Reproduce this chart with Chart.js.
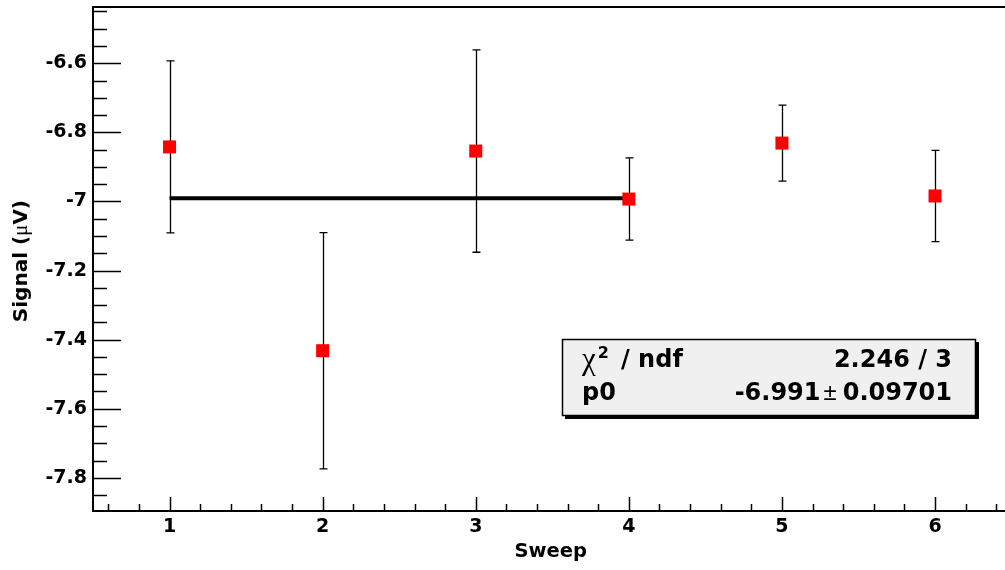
<!DOCTYPE html>
<html>
<head>
<meta charset="utf-8">
<script src="https://cdn.jsdelivr.net/npm/chart.js@4.4.0/dist/chart.umd.min.js"></script>
<style>
  html, body { margin: 0; padding: 0; background: #fff; overflow: hidden; }
  #wrap { width: 1005px; height: 570px; position: relative; }
</style>
</head>
<body>
<div id="wrap"><canvas id="grafico"></canvas></div>
<script>
// data
const sweeps = [1, 2, 3, 4, 5, 6];
const signal = [-6.842, -7.432, -6.854, -6.993, -6.831, -6.984];
const signalErr = [0.249, 0.342, 0.293, 0.119, 0.110, 0.132];

const xTickValues = [1, 2, 3, 4, 5, 6];
const xTickLabels = ["1", "2", "3", "4", "5", "6"];
const yTickValues = [-6.6, -6.8, -7.0, -7.2, -7.4, -7.6, -7.8];
const yTickLabels = ["-6.6", "-6.8", "-7", "-7.2", "-7.4", "-7.6", "-7.8"];

// fit result (pol0)
const fitRange = [1, 4];
const fitP0 = -6.991;
const fitP0Err = 0.09701;
const chi2 = 2.246;
const ndf = 3;

const FONT = '"DejaVu Sans"';

function labelFor(values, labels, v) {
  for (let i = 0; i < values.length; i++) {
    if (Math.abs(values[i] - v) < 1e-6) return labels[i];
  }
  return "";
}

// error bars, under the markers
const errorBars = {
  id: "errorBars",
  beforeDatasetsDraw(chart) {
    const ctx = chart.ctx;
    const xs = chart.scales.x;
    const ys = chart.scales.y;
    ctx.save();
    ctx.strokeStyle = "#000";
    ctx.lineWidth = 1.3;
    for (let i = 0; i < sweeps.length; i++) {
      let px = Math.round(xs.getPixelForValue(sweeps[i])) + 0.5;
      let top = ys.getPixelForValue(signal[i] + signalErr[i]);
      let bot = ys.getPixelForValue(signal[i] - signalErr[i]);
      ctx.beginPath();
      ctx.moveTo(px, top);
      ctx.lineTo(px, bot);
      ctx.moveTo(px - 4, top);
      ctx.lineTo(px + 4, top);
      ctx.moveTo(px - 4, bot);
      ctx.lineTo(px + 4, bot);
      ctx.stroke();
    }
    ctx.restore();
  },
};

// ROOT style frame with ticks inside
const frame = {
  id: "frame",
  afterDatasetsDraw(chart) {
    const ctx = chart.ctx;
    const a = chart.chartArea;
    const xs = chart.scales.x;
    const ys = chart.scales.y;
    ctx.save();
    ctx.strokeStyle = "#000";

    ctx.lineWidth = 1.5;
    ctx.beginPath();
    // y ticks: major every 0.2, minor every 0.05
    for (let k = Math.ceil(ys.min / 0.05); k <= Math.floor(ys.max / 0.05); k++) {
      let v = k * 0.05;
      let py = Math.round(ys.getPixelForValue(v)) + 0.5;
      let major = labelFor(yTickValues, yTickLabels, v) !== "";
      ctx.moveTo(a.left, py);
      ctx.lineTo(a.left + (major ? 28 : 14), py);
    }
    // x ticks: major every 1, minor every 0.2
    for (let k = Math.ceil(xs.min / 0.2); k <= Math.floor(xs.max / 0.2); k++) {
      let v = k * 0.2;
      let px = Math.round(xs.getPixelForValue(v)) + 0.5;
      let major = labelFor(xTickValues, xTickLabels, v) !== "";
      ctx.moveTo(px, a.bottom);
      ctx.lineTo(px, a.bottom - (major ? 14 : 7));
    }
    ctx.stroke();

    ctx.lineWidth = 2;
    ctx.beginPath();
    ctx.moveTo(a.right, a.top);
    ctx.lineTo(a.left, a.top);
    ctx.lineTo(a.left, a.bottom);
    ctx.lineTo(a.right, a.bottom);
    ctx.stroke();
    ctx.restore();
  },
  afterDraw(chart) {
    const ctx = chart.ctx;
    ctx.save();
    ctx.fillStyle = "#000";

    // x title
    ctx.font = "bold 19.5px " + FONT;
    ctx.textAlign = "right";
    ctx.textBaseline = "alphabetic";
    ctx.fillText("Sweep", 587, 557);

    // y title, rotated, ending at y=200
    ctx.save();
    ctx.translate(27, 200);
    ctx.rotate(-Math.PI / 2);
    ctx.textAlign = "left";
    let parts = [
      ["Signal (", "bold 20px " + FONT],
      ["\u03bc", '21px "Liberation Serif"'],
      ["V)", "bold 20px " + FONT],
    ];
    let total = 0;
    for (let p of parts) {
      ctx.font = p[1];
      total += ctx.measureText(p[0]).width;
    }
    let tx = -total;
    for (let p of parts) {
      ctx.font = p[1];
      ctx.fillText(p[0], tx, 0);
      tx += ctx.measureText(p[0]).width;
    }
    ctx.restore();

    // stat box
    ctx.fillStyle = "#000";
    ctx.fillRect(565, 342, 414, 77);
    ctx.fillStyle = "#f0f0f0";
    ctx.fillRect(562, 339, 414, 77);
    ctx.strokeStyle = "#000";
    ctx.lineWidth = 1.5;
    ctx.strokeRect(562.5, 339.5, 413, 76);

    ctx.fillStyle = "#000";
    ctx.textAlign = "left";
    ctx.font = '31px "Liberation Serif"';
    ctx.fillText("\u03c7", 582, 369);
    let chiW = ctx.measureText("\u03c7").width;
    ctx.font = "bold 16px " + FONT;
    ctx.fillText("2", 582 + chiW + 2, 358);
    ctx.font = "bold 24px " + FONT;
    ctx.fillText("/ ndf", 621, 367);
    ctx.fillText("p0", 582, 400);

    ctx.textAlign = "right";
    ctx.fillText(chi2.toFixed(3) + " / " + ndf, 952, 367);
    let errText = fitP0Err.toString();
    ctx.fillText(errText, 952, 400);
    let errW = ctx.measureText(errText).width;
    ctx.font = '24px "Liberation Sans"';
    ctx.fillText("\u00b1", 952 - errW - 6, 400);
    let pmW = ctx.measureText("\u00b1").width;
    ctx.font = "bold 24px " + FONT;
    ctx.fillText(fitP0.toFixed(3), 952 - errW - 6 - pmW - 3, 400);

    ctx.restore();
  },
};

new Chart(document.getElementById("grafico"), {
  type: "scatter",

  data: {
    datasets: [
      {
        label: "Signal",
        data: sweeps.map((x, i) => ({ x: x, y: signal[i] })),
        pointStyle: "rect",
        pointRadius: 9.2,
        pointHoverRadius: 9.2,
        backgroundColor: "#ff0000",
        borderWidth: 0,
        order: 0,
      },
      {
        type: "line",
        label: "fit",
        data: fitRange.map((x) => ({ x: x, y: fitP0 })),
        borderColor: "#000",
        borderWidth: 4,
        pointRadius: 0,
        fill: false,
        order: 1,
      },
    ],
  },

  plugins: [errorBars, frame],

  options: {
    responsive: true,
    maintainAspectRatio: false,
    animation: false,
    layout: {
      autoPadding: false,
      padding: { top: 7, left: 0, right: 0, bottom: 0 },
    },
    plugins: {
      legend: { display: false },
      tooltip: { enabled: false },
    },
    scales: {
      x: {
        type: "linear",
        min: 0.5,
        max: 6.457,
        grid: { display: false, drawTicks: false },
        border: { display: false },
        afterBuildTicks: (s) => {
          s.ticks = xTickValues.map((v) => ({ value: v }));
        },
        afterFit: (s) => {
          s.height = 59;
          s.paddingLeft = 0;
          s.paddingRight = 0;
        },
        ticks: {
          color: "#000",
          padding: 5,
          maxRotation: 0,
          autoSkip: false,
          font: { family: FONT, size: 19, weight: "bold" },
          callback: (v) => labelFor(xTickValues, xTickLabels, v),
        },
      },
      y: {
        type: "linear",
        min: -7.896,
        max: -6.437,
        grid: { display: false, drawTicks: false },
        border: { display: false },
        afterBuildTicks: (s) => {
          s.ticks = yTickValues.map((v) => ({ value: v }));
        },
        afterFit: (s) => {
          s.width = 93;
          s.paddingTop = 0;
          s.paddingBottom = 0;
        },
        ticks: {
          color: "#000",
          padding: 6,
          autoSkip: false,
          font: { family: FONT, size: 19, weight: "bold" },
          callback: (v) => labelFor(yTickValues, yTickLabels, v),
        },
      },
    },
  },
});
</script>
</body>
</html>
